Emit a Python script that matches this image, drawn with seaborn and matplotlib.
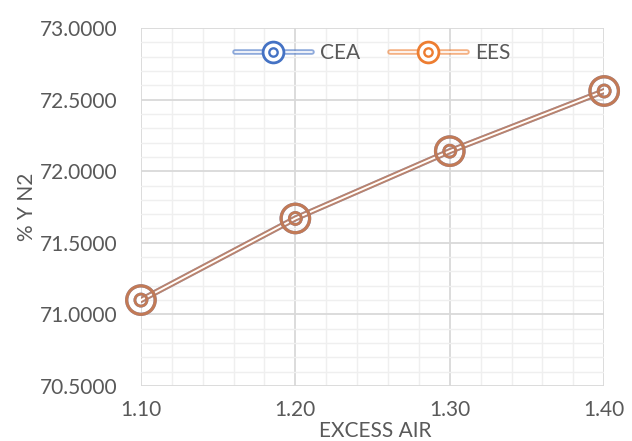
import numpy as np
import pandas as pd
import matplotlib
matplotlib.use("Agg")
from matplotlib import pyplot as plt
from matplotlib import patheffects as pe
from matplotlib.lines import Line2D
from matplotlib.legend_handler import HandlerTuple
from matplotlib.ticker import MultipleLocator, FormatStrFormatter
import seaborn as sns

# data
excess_air = [1.10, 1.20, 1.30, 1.40]
cea_yn2 = [71.10, 71.67, 72.14, 72.56]
ees_yn2 = [71.10, 71.67, 72.14, 72.56]
series_names = ["CEA", "EES"]

df = pd.concat([
    pd.DataFrame({"excess_air": excess_air, "yn2": cea_yn2, "series": "CEA"}),
    pd.DataFrame({"excess_air": excess_air, "yn2": ees_yn2, "series": "EES"}),
])

colors = {"CEA": "#4472C4", "EES": "#ED7D31"}
alphas = {"CEA": 1.0, "EES": 0.75}

sns.set_style("white")
plt.rcParams["font.family"] = ["Lato", "DejaVu Sans"]
fs = 15

fig = plt.figure(figsize=(6.32, 4.41), dpi=100)
ax = fig.add_axes([0.223, 0.1247, 0.733, 0.8118])


def double_line(color, alpha):
    return [pe.Stroke(linewidth=4.2, foreground=color, alpha=alpha),
            pe.Stroke(linewidth=1.3, foreground="white"),
            pe.Normal()]


for name in series_names:
    sub = df[df["series"] == name]
    c = colors[name]
    a = alphas[name]
    sns.lineplot(data=sub, x="excess_air", y="yn2", ax=ax, color="white",
                 linewidth=0.01, legend=False,
                 path_effects=double_line(c, a * 0.8), zorder=3)
    sns.scatterplot(data=sub, x="excess_air", y="yn2", ax=ax, s=420,
                    facecolor="none", edgecolor=c, linewidth=2.3, alpha=a,
                    legend=False, zorder=4, clip_on=False)
    sns.scatterplot(data=sub, x="excess_air", y="yn2", ax=ax, s=75,
                    facecolor="none", edgecolor=c, linewidth=2.0, alpha=a,
                    legend=False, zorder=4, clip_on=False)

ax.set_xlim(1.10, 1.40)
ax.set_ylim(70.5, 73.0)
ax.xaxis.set_major_locator(MultipleLocator(0.1))
ax.xaxis.set_minor_locator(MultipleLocator(0.02))
ax.yaxis.set_major_locator(MultipleLocator(0.5))
ax.yaxis.set_minor_locator(MultipleLocator(0.1))
ax.xaxis.set_major_formatter(FormatStrFormatter("%.2f"))
ax.yaxis.set_major_formatter(FormatStrFormatter("%.4f"))

ax.grid(which="major", color="#d9d9d9", linewidth=1.3, zorder=0)
ax.grid(which="minor", color="#efefef", linewidth=1.0, zorder=0)
ax.set_axisbelow(True)
for s in ax.spines.values():
    s.set_visible(False)

ax.tick_params(axis="both", which="both", length=0, labelsize=fs,
               labelcolor="#595959")
ax.tick_params(axis="y", pad=17)
ax.tick_params(axis="x", pad=10)

ax.set_xlabel("EXCESS AIR", fontsize=fs, color="#595959")
ax.set_ylabel("% Y N2", fontsize=fs, color="#595959")
ax.xaxis.set_label_coords(0.505, -0.098)
ax.yaxis.set_label_coords(-0.225, 0.5)

handles = []
for name in series_names:
    c = colors[name]
    line = Line2D([0], [0], color="white", linewidth=0.01,
                  path_effects=[pe.Stroke(linewidth=4, foreground=c, alpha=0.6),
                                pe.Stroke(linewidth=1.2, foreground="white"),
                                pe.Normal()])
    outer = Line2D([0], [0], linestyle="none", marker="o", markersize=15,
                   markerfacecolor="white", markeredgecolor=c,
                   markeredgewidth=2.0)
    inner = Line2D([0], [0], linestyle="none", marker="o", markersize=6,
                   markerfacecolor="none", markeredgecolor=c,
                   markeredgewidth=1.7)
    handles.append((line, outer, inner))
leg = ax.legend(handles, series_names, loc="center", bbox_to_anchor=(0.5, 0.93),
                ncol=2, frameon=False, fontsize=fs, handlelength=3.7,
                columnspacing=1.4, handletextpad=0.4,
                handler_map={tuple: HandlerTuple(ndivide=1)})
for t in leg.get_texts():
    t.set_color("#595959")

fig.savefig("out.png", dpi=100)
